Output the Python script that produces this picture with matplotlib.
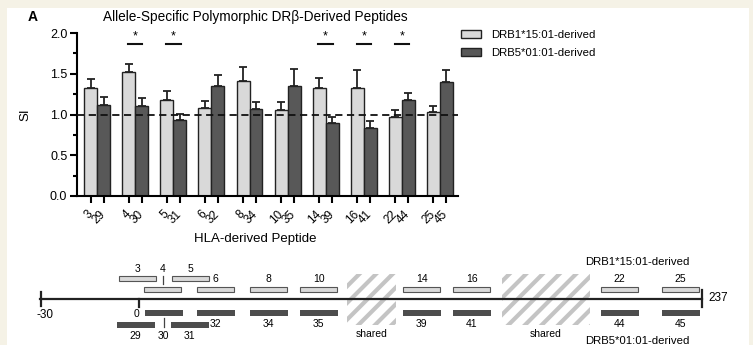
import numpy as np
import matplotlib
matplotlib.use("Agg")
import matplotlib.pyplot as plt
from matplotlib.patches import Rectangle

plt.rcParams["font.family"] = ["Liberation Sans", "DejaVu Sans"]
plt.rcParams["hatch.linewidth"] = 3.0

# SI per peptide pair
light_labels = ["3", "4", "5", "6", "8", "10", "14", "16", "22", "25"]
dark_labels = ["29", "30", "31", "32", "34", "35", "39", "41", "44", "45"]
light_si = [1.32, 1.52, 1.18, 1.08, 1.41, 1.06, 1.32, 1.32, 0.975, 1.03]
light_err = [0.11, 0.10, 0.11, 0.09, 0.17, 0.09, 0.13, 0.22, 0.085, 0.08]
dark_si = [1.12, 1.10, 0.935, 1.35, 1.065, 1.35, 0.90, 0.84, 1.18, 1.40]
dark_err = [0.09, 0.10, 0.075, 0.14, 0.085, 0.21, 0.07, 0.08, 0.08, 0.14]
significant = ["4", "5", "14", "16", "22"]
yticks = [0.0, 0.5, 1.0, 1.5, 2.0]

# peptide map below the chart (schematic coordinates, not to scale)
map_light_start = [119, 144, 172, 197, 250, 300, 403, 453, 601, 662]
map_light_row = [0, 1, 0, 1, 1, 1, 1, 1, 1, 1]
map_dark_start = [117, 145, 171, 197, 250, 300, 403, 453, 601, 662]
map_dark_row = [1, 0, 1, 0, 0, 0, 0, 0, 0, 0]
map_leader = ["4", "30"]
shared_regions = [(347, 49), (502, 88)]

W, H = 753, 345
fig = plt.figure(figsize=(W / 100, H / 100), dpi=100, facecolor="#f5f2e6")

# background + schematic in pixel coordinates
bg = fig.add_axes([0, 0, 1, 1])
bg.set_xlim(0, W)
bg.set_ylim(H, 0)
bg.axis("off")
bg.add_patch(Rectangle((7, 8), 742, H - 8, facecolor="white", edgecolor="none"))

# main bar chart
ax = fig.add_axes([77 / W, (H - 196) / H, (458 - 77) / W, (196 - 33) / H])
x = np.arange(len(light_labels))
w = 0.34
ax.bar(x - w / 2, light_si, w, color="#d9d9d9", edgecolor="#222222", linewidth=1,
       yerr=[np.zeros(len(x)), light_err],
       error_kw=dict(ecolor="#222222", elinewidth=1.3, capsize=3, capthick=1.3),
       label="DRB1*15:01-derived", zorder=2)
ax.bar(x + w / 2, dark_si, w, color="#585858", edgecolor="#222222", linewidth=1,
       yerr=[np.zeros(len(x)), dark_err],
       error_kw=dict(ecolor="#222222", elinewidth=1.3, capsize=3, capthick=1.3),
       label="DRB5*01:01-derived", zorder=2)
ax.axhline(1.0, color="#111111", ls=(0, (4, 2.5)), lw=1.3, zorder=3)

for lab in significant:
    i = light_labels.index(lab)
    ax.plot([i - 0.19, i + 0.19], [1.87, 1.87], color="#111111", lw=1.5, clip_on=False)
    ax.text(i, 1.885, "*", ha="center", va="bottom", fontsize=9)

ax.set_xlim(-0.53, len(x) - 1 + 0.475)
ax.set_ylim(0, 2)
ax.set_xticks(np.concatenate([x - w / 2, x + w / 2]))
ax.set_xticklabels(light_labels + dark_labels, rotation=45, ha="right", va="center",
                   rotation_mode="anchor", fontsize=8.5)
ax.set_yticks(yticks)
ax.set_yticklabels([f"{v:.1f}" for v in yticks], fontsize=9)
ax.set_yticks(np.arange(0, 2.01, 0.25), minor=True)
ax.tick_params(axis="y", which="major", width=1.5, length=5, pad=2)
ax.tick_params(axis="x", which="major", width=1.5, length=5, pad=7)
ax.tick_params(axis="y", which="minor", width=1.5, length=3)
for side in ["top", "right"]:
    ax.spines[side].set_visible(False)
for side in ["left", "bottom"]:
    ax.spines[side].set_linewidth(1.5)
ax.patch.set_alpha(0)

ax.set_ylabel("SI", fontsize=9.5)
ax.yaxis.set_label_coords(-0.12, 0.5)
ax.set_xlabel("HLA-derived Peptide", fontsize=9.5)
ax.xaxis.set_label_coords(0.467, -0.225)

ax.legend(loc="upper left", bbox_to_anchor=(461 / W, 1 - 30 / H),
          bbox_transform=fig.transFigure, frameon=False, fontsize=8.2,
          handlelength=1.75, handleheight=0.75, handletextpad=0.9,
          labelspacing=0.65, borderpad=0, borderaxespad=0)

fig.text(255.5 / W, 1 - 17 / H, "Allele-Specific Polymorphic DR\u03b2-Derived Peptides",
         ha="center", va="center", fontsize=9.8)
fig.text(33 / W, 1 - 17 / H, "A", ha="center", va="center", fontsize=10, fontweight="bold")

# ---- peptide map ----
line_y = 299
bg.plot([40, 702], [line_y, line_y], color="#222222", lw=1.6)
bg.plot([41, 41], [292, 306], color="#222222", lw=1.6)
bg.plot([139, 139], [line_y, 307], color="#222222", lw=1.6)
bg.plot([702, 702], [290, 307], color="#222222", lw=1.6)
bg.text(45, 315, "-30", ha="center", va="center", fontsize=8.5)
bg.text(137, 314, "0", ha="center", va="center", fontsize=7.5)
bg.text(708, 298, "237", ha="left", va="center", fontsize=8.5)

light_row_y = [278, 289]
dark_row_y = [313, 325]
seg = 37.5
for lab, x0, row in zip(light_labels, map_light_start, map_light_row):
    yc = light_row_y[row]
    bg.add_patch(Rectangle((x0, yc - 2.5), seg, 5, facecolor="#d9d9d9",
                           edgecolor="#555555", lw=0.8))
    xc = x0 + seg / 2
    if lab in map_leader:
        bg.plot([xc, xc], [276, 284], color="#444444", lw=0.9)
        bg.text(xc, 269, lab, ha="center", va="center", fontsize=7.5)
    else:
        bg.text(xc, yc - 9 if row == 0 else 279, lab, ha="center", va="center", fontsize=7.5)

for lab, x0, row in zip(dark_labels, map_dark_start, map_dark_row):
    yc = dark_row_y[row]
    bg.add_patch(Rectangle((x0, yc - 3), seg + 0.5, 6, facecolor="#4d4d4d",
                           edgecolor="none"))
    xc = x0 + seg / 2
    if lab in map_leader:
        bg.plot([xc, xc], [318, 327], color="#444444", lw=0.9)
        bg.text(xc, 336, lab, ha="center", va="center", fontsize=7.5)
    else:
        bg.text(xc, 324 if row == 0 else 336, lab, ha="center", va="center", fontsize=7.5)

for x0, wd in shared_regions:
    bg.add_patch(Rectangle((x0, 274), wd, 51, facecolor="none",
                           edgecolor="#c4c4c4", lw=0, hatch="//"))
    bg.text(x0 + wd / 2, 334, "shared", ha="center", va="center", fontsize=7.5)

bg.text(637.5, 262, "DRB1*15:01-derived", ha="center", va="center", fontsize=8.2)
bg.text(637.5, 341, "DRB5*01:01-derived", ha="center", va="center", fontsize=8.2)

fig.savefig("out.png", dpi=100, facecolor=fig.get_facecolor())
